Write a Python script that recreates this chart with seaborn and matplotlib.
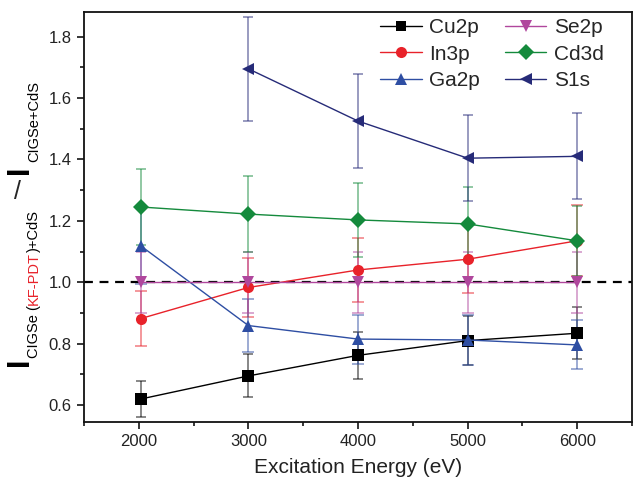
import numpy as np
import pandas as pd
import matplotlib
matplotlib.use("Agg")
import matplotlib.pyplot as plt
import seaborn as sns
from matplotlib.ticker import MultipleLocator

# data
energy = [2020, 3000, 4000, 5000, 6000]
cu2p = [0.620, 0.695, 0.762, 0.810, 0.834]
cu2p_err = [0.060, 0.070, 0.077, 0.080, 0.084]
in3p = [0.882, 0.983, 1.040, 1.075, 1.135]
in3p_err = [0.090, 0.095, 0.104, 0.110, 0.115]
ga2p = [1.118, 0.859, 0.815, 0.812, 0.796]
ga2p_err = [0.125, 0.085, 0.080, 0.080, 0.080]
se2p = [1.000, 1.000, 1.000, 1.000, 1.000]
se2p_err = [0.100, 0.100, 0.100, 0.100, 0.100]
cd3d = [1.245, 1.222, 1.203, 1.190, 1.135]
cd3d_err = [0.125, 0.123, 0.120, 0.120, 0.113]
s1s = [np.nan, 1.695, 1.525, 1.404, 1.410]
s1s_err = [np.nan, 0.170, 0.153, 0.140, 0.140]

names = ["Cu2p", "In3p", "Ga2p", "Se2p", "Cd3d", "S1s"]
values = [cu2p, in3p, ga2p, se2p, cd3d, s1s]
errors = [cu2p_err, in3p_err, ga2p_err, se2p_err, cd3d_err, s1s_err]
colors = ["#000000", "#e8222a", "#2e4ea3", "#b0479d", "#148a3c", "#262b78"]
markers = ["s", "o", "^", "v", "D", "<"]
sizes = [7, 8, 8.5, 8.5, 8, 8.5]

rows = []
for n, v, e in zip(names, values, errors):
    for x, y, s in zip(energy, v, e):
        rows.append({"energy": x, "ratio": y, "err": s, "line": n})
df = pd.DataFrame(rows).dropna()

sns.set_style("ticks")
plt.rcParams["font.family"] = ["Liberation Sans", "DejaVu Sans"]

W, H = 635, 488
fig = plt.figure(figsize=(W / 100, H / 100), dpi=100)
ax = fig.add_axes([84 / W, 1 - 422 / H, (632 - 84) / W, (422 - 12) / H])

# error bars first so markers sit on top
for n, c in zip(names, colors):
    d = df[df["line"] == n]
    ax.errorbar(d["energy"], d["ratio"], yerr=d["err"], fmt="none", ecolor=c,
                alpha=0.55, elinewidth=1.2, capsize=3.5, capthick=1.2, zorder=1.5)

ax.axhline(1.0, color="black", lw=1.6, ls=(0, (4, 3)), zorder=1.8)

sns.lineplot(data=df, x="energy", y="ratio", hue="line", style="line",
             hue_order=names, style_order=names, palette=colors,
             markers=dict(zip(names, markers)), dashes=False, lw=1.0,
             markersize=8, markeredgewidth=0, ax=ax, zorder=3)

# marker sizes per series
for line, ms in zip(ax.get_lines()[1:], sizes):
    line.set_markersize(ms)

ax.set_xlim(1500, 6500)
ax.set_ylim(0.545, 1.88)
ax.xaxis.set_major_locator(MultipleLocator(1000))
ax.xaxis.set_minor_locator(MultipleLocator(500))
ax.yaxis.set_major_locator(MultipleLocator(0.2))
ax.yaxis.set_minor_locator(MultipleLocator(0.1))
ax.tick_params(which="major", direction="out", length=5, width=1.3,
               labelsize=12, labelcolor="#222222", pad=4)
ax.tick_params(which="minor", direction="out", length=3, width=1.3)
for sp in ax.spines.values():
    sp.set_linewidth(1.3)
    sp.set_color("#111111")

ax.set_xlabel("Excitation Energy (eV)", fontsize=15, color="#222222", labelpad=6)
ax.set_ylabel("")

handles, labels = ax.get_legend_handles_labels()
for h, ms in zip(handles, sizes):
    h.set_markersize(ms)
ax.legend(handles, labels, ncol=2, frameon=False, fontsize=15,
          loc="upper left", bbox_to_anchor=(380 / W, 1 - 18 / H),
          bbox_transform=fig.transFigure, borderpad=0, borderaxespad=0,
          handlelength=2.0, handletextpad=0.35, columnspacing=1.2,
          labelspacing=0.37)

# y label built from pieces so part of it can be red
fig.canvas.draw()
r = fig.canvas.get_renderer()


def vtext(s, xb, ytop, fs, c="black", weight="normal"):
    # ytop: pixel row (from the top) where the rotated string starts
    t = fig.text(xb / W, 1 - ytop / H, s, rotation=90, rotation_mode="anchor",
                 ha="left", va="baseline", fontsize=fs, color=c, fontweight=weight)
    return ytop - t.get_window_extent(r).height


vtext("I", 28, 366, 22, weight="bold")
y = vtext("CIGSe (", 38, 358, 10.5)
y = vtext("KF-PDT", 38, y, 10.5, c="#e8222a")
y = vtext(")+CdS", 38, y, 10.5)
fig.text(18 / W, 1 - 192 / H, "/", ha="center", va="center", fontsize=18)
vtext("I", 28, 174, 22, weight="bold")
vtext("CIGSe+CdS", 38, 162, 10.5)

fig.savefig("out.png", dpi=100)
